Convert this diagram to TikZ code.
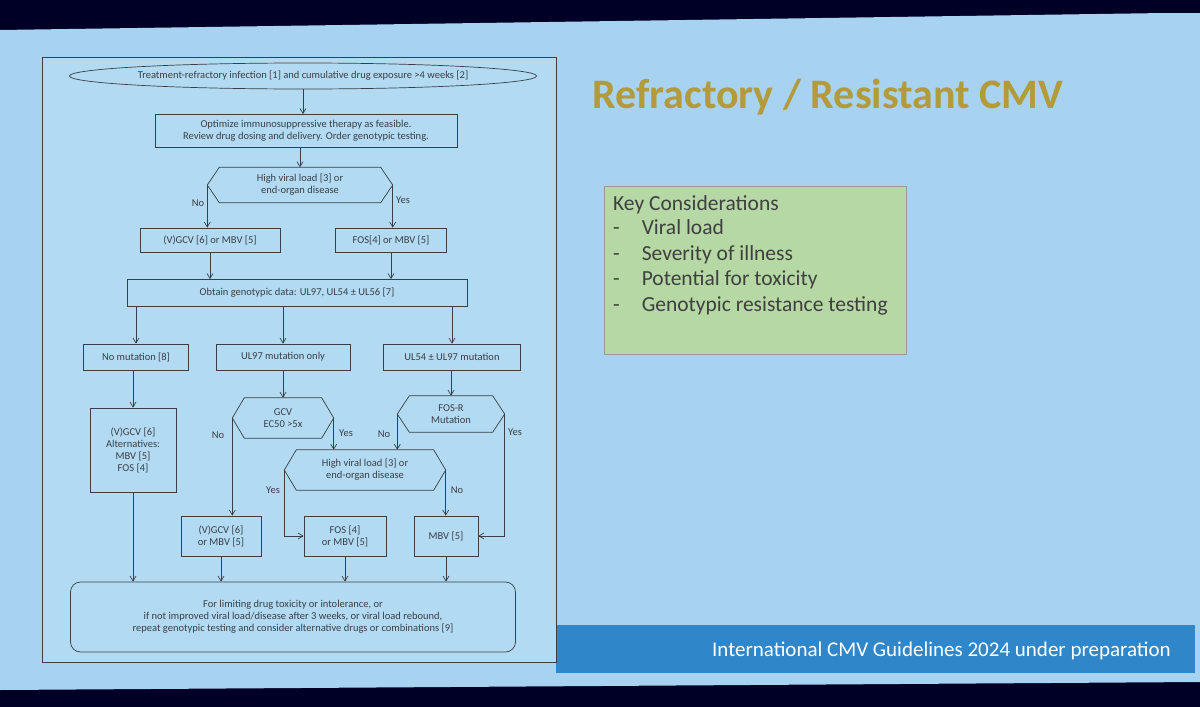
\documentclass[tikz,border=0pt]{standalone}
\usepackage{fontspec}
\setmainfont{Carlito}
\usetikzlibrary{shapes.geometric,arrows.meta}
\definecolor{slide}{HTML}{A8D3F0}
\definecolor{panel}{HTML}{B2DAF2}
\definecolor{ln}{HTML}{3A3F45}
\definecolor{ttl}{HTML}{B39A3A}
\definecolor{grn}{HTML}{B5D8A4}
\definecolor{foot}{HTML}{2F86C8}
\begin{document}
\begin{tikzpicture}[x=1pt,y=-1pt,
  every node/.style={font=\fontsize{10.5}{12}\selectfont,text=ln,align=center,inner sep=1pt},
  box/.style={draw=ln,line width=0.7pt,minimum height=24pt},
  hexn/.style={minimum height=36pt},
  arr/.style={draw=ln,line width=0.7pt,-{Straight Barb[length=5pt,width=6pt]}},
  ln/.style={draw=ln,line width=0.7pt},
  lab/.style={font=\fontsize{10.5}{12}\selectfont}]
\useasboundingbox (0,0) rectangle (1200,707);
\fill[black!85!blue] (0,0) rectangle (1200,707);
\fill[slide] (0,30) -- (1165,13) -- (1200,13) -- (1200,682) -- (0,690) -- cycle;
% footer
\fill[foot] (556,625) rectangle (1195,673);
\node[font=\fontsize{21}{24}\selectfont,text=white,anchor=east] (ft) at (1172,651) {International CMV Guidelines 2024 under preparation};
% title
\node[font=\fontsize{42}{46}\selectfont\bfseries,text=ttl] (title) at (828,97) {Refractory / Resistant CMV};
% key considerations
\node[draw=black!40,fill=grn,minimum width=302pt,minimum height=168pt] (kc) at (755,270) {};
\node[anchor=north west,align=left,font=\fontsize{21.5}{25.5}\selectfont,text=black!75] (kct) at (612,194)
 {Key Considerations\\[-1pt]
 -\hspace{22pt}Viral load\\
 -\hspace{22pt}Severity of illness\\
 -\hspace{22pt}Potential for toxicity\\
 -\hspace{22pt}Genotypic resistance testing};
% panel
\draw[ln,fill=panel] (42,57) rectangle (556,662);
\node[draw=ln,line width=0.7pt,ellipse,minimum width=462pt,minimum height=26pt,inner sep=0pt] (top) at (303,76) {Treatment-refractory infection [1] and cumulative drug exposure >4 weeks [2]};
\node[box,minimum width=302pt,minimum height=33pt] (opt) at (306,131) {Optimize immunosuppressive therapy as feasible.\\Review drug dosing and delivery. Order genotypic testing.};
\node[hexn,minimum width=185pt,minimum height=35pt] (h1) at (300,185) {High viral load [3] or\\end-organ disease};
\node[box,minimum width=140pt] (b1) at (210,240) {(V)GCV [6] or MBV [5]};
\node[box,minimum width=111pt] (b2) at (391,240) {FOS[4] or MBV [5]};
\node[box,minimum width=340pt,minimum height=27pt] (g) at (297,293) {Obtain genotypic data: UL97, UL54 ± UL56 [7]};
\node[box,minimum width=105pt,minimum height=26pt] (n1) at (136,357) {No mutation [8]};
\node[box,minimum width=134pt,minimum height=26pt] (n2) at (283,357) {UL97 mutation only};
\node[box,minimum width=137pt,minimum height=26pt] (n3) at (452,357) {UL54 ± UL97 mutation};
\node[box,minimum width=86pt,minimum height=84pt] (alt) at (133,450) {(V)GCV [6]\\Alternatives:\\MBV [5]\\FOS [4]};
\node[hexn,minimum width=101pt,minimum height=40pt] (h2) at (283,418) {GCV\\EC50 >5x};
\node[hexn,minimum width=107pt,minimum height=36pt] (h3) at (451,414) {FOS-R\\Mutation};
\node[hexn,minimum width=161pt,minimum height=40pt] (h4) at (365,470) {High viral load [3] or\\end-organ disease};
\node[box,minimum width=80pt,minimum height=40pt] (c1) at (221,536) {(V)GCV [6]\\or MBV [5]};
\node[box,minimum width=82pt,minimum height=40pt] (c2) at (345,536) {FOS [4]\\or MBV [5]};
\node[box,minimum width=64pt,minimum height=40pt] (c3) at (446,536) {MBV [5]};
\node[draw=ln,line width=0.7pt,rounded corners=10pt,minimum width=445pt,minimum height=70pt] (fin) at (293,617)
 {For limiting drug toxicity or intolerance, or\\if not improved viral load/disease after 3 weeks, or viral load rebound,\\repeat genotypic testing and consider alternative drugs or combinations [9]};
% hexagon outlines
\foreach \h in {h1,h2,h3,h4}{
 \draw[ln] (\h.west) -- ([xshift=12pt]\h.north west) -- ([xshift=-12pt]\h.north east) -- (\h.east)
   -- ([xshift=-12pt]\h.south east) -- ([xshift=12pt]\h.south west) -- cycle;}
% connectors
\draw[arr] (top.south) -- (top.south |- opt.north);
\draw[arr] (h1.north |- opt.south) -- (h1.north);
\draw[arr] (h1.west) -- (h1.west |- b1.north);
\draw[arr] (h1.east) -- (h1.east |- b2.north);
\node[lab] (l1) at (198,203) {No};
\node[lab] (l2) at (403,200) {Yes};
\draw[arr] (b1.south) -- (b1.south |- g.north);
\draw[arr] (b2.south) -- (b2.south |- g.north);
\draw[arr] (n1.north |- g.south) -- (n1.north);
\draw[arr] (n2.north |- g.south) -- (n2.north);
\draw[arr] (n3.north |- g.south) -- (n3.north);
\draw[arr] (alt.north |- n1.south) -- (alt.north);
\draw[arr] (n2.south) -- (h2.north);
\draw[arr] (h3.north |- n3.south) -- (h3.north);
\draw[arr] (h2.west) -- (h2.west |- c1.north);
\node[lab] (l3) at (218,435) {No};
\draw[arr] (h2.east) -- (h2.east |- h4.north);
\node[lab] (l4) at (346,433) {Yes};
\draw[arr] (h3.west) -- (h3.west |- h4.north);
\node[lab] (l5) at (384,434) {No};
\draw[arr] (h3.east) -- (h3.east |- c3.east) -- (c3.east);
\node[lab] (l6) at (515,432) {Yes};
\draw[arr] (h4.west) -- (h4.west |- c2.west) -- (c2.west);
\node[lab] (l7) at (273,490) {Yes};
\draw[arr] (h4.east) -- (h4.east |- c3.north);
\node[lab] (l8) at (457,490) {No};
\draw[arr] (alt.south) -- (alt.south |- fin.north);
\draw[arr] (c1.south) -- (c1.south |- fin.north);
\draw[arr] (c2.south) -- (c2.south |- fin.north);
\draw[arr] (c3.south) -- (c3.south |- fin.north);
\end{tikzpicture}
\end{document}
